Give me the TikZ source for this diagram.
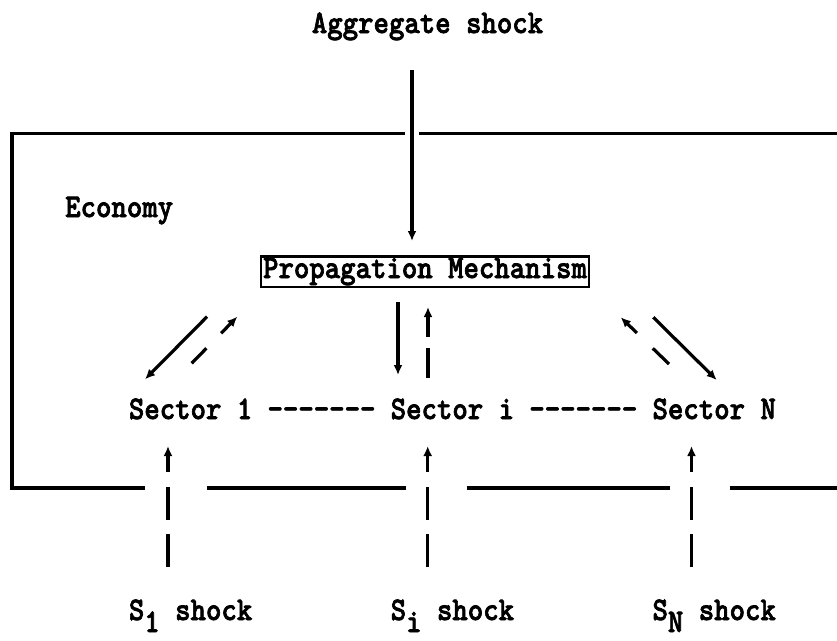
\documentclass[tikz,border=0pt]{standalone}
\usepackage{graphicx}
\usepackage{fontspec}
\newfontfamily\twfont[FakeBold=2.2]{lmmonolt10-bold.otf}
\usetikzlibrary{arrows.meta}
\newcommand\tw[1]{\scalebox{0.89}[1]{\fontsize{33}{36}\selectfont\twfont #1}}
\begin{document}
\begin{tikzpicture}[x=1pt,y=-1pt,
  lbl/.style={inner sep=0pt, anchor=base},
  arr/.style={line width=3.2pt, -{Latex[length=10pt,width=9pt]}},
  frame/.style={line width=3.2pt, line join=miter},
  pmbox/.style={draw, line width=2.4pt, inner xsep=2.2pt, inner ysep=1.5pt,
                text height=20pt, text depth=7.5pt, anchor=base}
]
\useasboundingbox (0,0) rectangle (837,640);
\clip (0,0) rectangle (837,640);
\fill[white] (0,0) rectangle (837,640);

% texts
\node[lbl] (agg) at (427.5,33) {\tw{Aggregate shock}};
\node[lbl, anchor=base west] (econ) at (65,217) {\tw{Economy}};
\node[pmbox] (pm) at (425,278) {\tw{Propagation Mechanism}};
\node[lbl] (s1) at (190.6,419) {\tw{Sector 1}};
\node[lbl] (d1) at (321.5,419) {\tw{-------}};
\node[lbl] (si) at (452.4,419) {\tw{Sector i}};
\node[lbl] (d2) at (583.3,419) {\tw{-------}};
\node[lbl] (sn) at (714.2,419) {\tw{Sector N}};
\node[lbl] (b1) at (190.6,620) {\tw{S\raisebox{-12pt}{1} shock}};
\node[lbl] (bi) at (452.4,620) {\tw{S\raisebox{-12pt}{i} shock}};
\node[lbl] (bn) at (714.2,620) {\tw{S\raisebox{-12pt}{N} shock}};

% economy frame
\draw[frame] (145,488) -- (12,488) -- (12,133.5) -- (405,133.5);
\draw[frame] (419,133.5) -- (850,133.5);
\draw[frame] (207,488) -- (406,488);
\draw[frame] (467,488) -- (670,488);
\draw[frame] (730,488) -- (850,488);

% arrow end points
\coordinate (aggA) at (412,70);
\coordinate (aggB) at (412,241);
\coordinate (pmL1) at (207,316.7);
\coordinate (s1T1) at (145,379.3);
\coordinate (s1T2) at (191.7,363.3);
\coordinate (pmL2) at (237.3,316.7);
\coordinate (pmC1) at (398,302);
\coordinate (siT1) at (398,375);
\coordinate (siT2) at (428,378);
\coordinate (pmC2) at (428,307);
\coordinate (pmR1) at (653.3,317.3);
\coordinate (snT1) at (716.7,380);
\coordinate (snT2) at (669,364);
\coordinate (pmR2) at (620.7,317.3);
\coordinate (b1T) at (168,567);
\coordinate (s1B) at (168,446);
\coordinate (biT) at (427.7,567);
\coordinate (siB) at (427.7,446);
\coordinate (bnT) at (691.5,567);
\coordinate (snB) at (691.5,446);

% arrows
\draw[arr] (aggA) -- (aggB);
\draw[arr] (pmL1) -- (s1T1);
\draw[arr, dash pattern=on 21pt off 21pt] (s1T2) -- (pmL2);
\draw[arr] (pmC1) -- (siT1);
\draw[arr, dash pattern=on 30pt off 11pt] (siT2) -- (pmC2);
\draw[arr] (pmR1) -- (snT1);
\draw[arr, dash pattern=on 22.6pt off 22pt] (snT2) -- (pmR2);
\draw[arr, dash pattern=on 33pt off 14.5pt] (b1T) -- (s1B);
\draw[arr, dash pattern=on 33pt off 14.5pt] (biT) -- (siB);
\draw[arr, dash pattern=on 33pt off 14.5pt] (bnT) -- (snB);
\end{tikzpicture}
\end{document}
